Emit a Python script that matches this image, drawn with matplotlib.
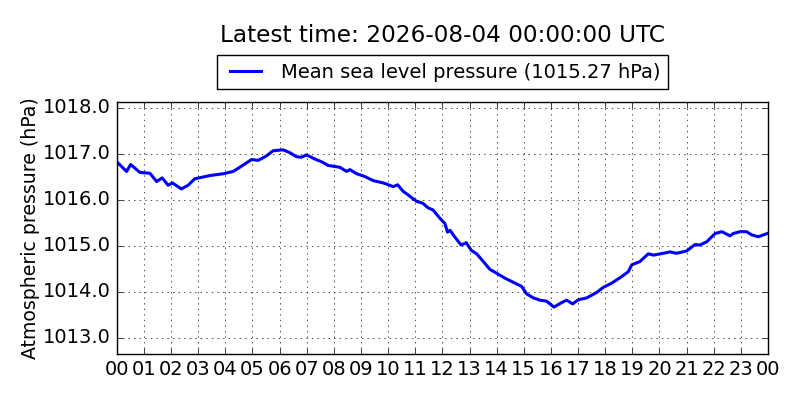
import datetime as dt
import matplotlib
matplotlib.use("Agg")
import matplotlib.pyplot as plt
import matplotlib.dates as mdates

# ================================
# DATA
# ================================
hours = [
    0.05, 0.36, 0.51, 0.85, 1.22, 1.47, 1.67, 1.89, 2.05, 2.38,
    2.63, 2.87, 3.43, 3.92, 4.29, 4.53, 4.97, 5.21, 5.52, 5.76,
    6.13, 6.37, 6.62, 6.81, 6.99, 7.30, 7.55, 7.79, 8.22, 8.47,
    8.59, 8.84, 9.14, 9.45, 9.82, 10.19, 10.35, 10.55, 10.80, 11.05,
    11.27, 11.47, 11.66, 11.91, 12.09, 12.19, 12.28, 12.45, 12.69, 12.88,
    13.07, 13.26, 13.51, 13.75, 13.99, 14.30, 14.61, 14.92, 15.10, 15.35,
    15.60, 15.84, 16.11, 16.40, 16.58, 16.80, 17.01, 17.32, 17.69, 17.93,
    18.24, 18.60, 18.85, 18.98, 19.28, 19.59, 19.78, 20.14, 20.39, 20.63,
    21.00, 21.31, 21.49, 21.74, 22.05, 22.30, 22.60, 22.72, 22.97, 23.21,
    23.40, 23.64, 23.97,
]
pressure = [
    1016.80, 1016.62, 1016.77, 1016.60, 1016.58, 1016.40, 1016.48, 1016.32, 1016.37, 1016.24,
    1016.32, 1016.46, 1016.53, 1016.57, 1016.62, 1016.71, 1016.88, 1016.86, 1016.96, 1017.07,
    1017.09, 1017.03, 1016.94, 1016.93, 1016.98, 1016.89, 1016.83, 1016.75, 1016.71, 1016.62,
    1016.66, 1016.57, 1016.51, 1016.42, 1016.37, 1016.29, 1016.33, 1016.19, 1016.08, 1015.97,
    1015.93, 1015.83, 1015.78, 1015.60, 1015.49, 1015.30, 1015.34, 1015.20, 1015.02, 1015.07,
    1014.90, 1014.83, 1014.66, 1014.49, 1014.41, 1014.30, 1014.21, 1014.12, 1013.96, 1013.87,
    1013.82, 1013.80, 1013.67, 1013.77, 1013.82, 1013.74, 1013.83, 1013.87, 1013.99, 1014.10,
    1014.19, 1014.33, 1014.44, 1014.59, 1014.66, 1014.83, 1014.80, 1014.84, 1014.87, 1014.84,
    1014.89, 1015.03, 1015.02, 1015.09, 1015.27, 1015.31, 1015.22, 1015.27, 1015.31, 1015.31,
    1015.24, 1015.20, 1015.27,
]
start = dt.datetime(2026, 8, 3, 0, 0)
end = dt.datetime(2026, 8, 4, 0, 0)
times = [start + dt.timedelta(hours=h) for h in hours]
latest = pressure[-1]

# ================================
# FIGURE
# ================================
plt.style.use("classic")
fig = plt.figure(figsize=(8, 4), dpi=100)
ax = fig.add_axes([0.146, 0.115, 0.814, 0.63])

ax.plot(times, pressure, color="b", linewidth=2.2,
        label=f"Mean sea level pressure ({latest:.2f} hPa)")

ax.set_xlim(start, end)
ax.set_ylim(1012.65, 1018.13)
ax.xaxis.set_major_locator(mdates.HourLocator(interval=1))
ax.xaxis.set_major_formatter(mdates.DateFormatter("%H"))
ax.yaxis.set_major_locator(plt.MultipleLocator(1.0))
ax.yaxis.set_major_formatter(plt.FormatStrFormatter("%.1f"))
ax.tick_params(labelsize=14)
ax.grid(True)
ax.set_ylabel("Atmospheric pressure (hPa)", fontsize=13.6, labelpad=2)

ax.legend(loc="lower center", bbox_to_anchor=(0.5, 1.05), fontsize=14,
          handlelength=2.2, handletextpad=0.7, borderpad=0.4,
          borderaxespad=0)
fig.text(0.553, 0.912, "Latest time: 2026-08-04 00:00:00 UTC",
         ha="center", va="center", fontsize=16.7)

fig.savefig("out.png", dpi=100)
